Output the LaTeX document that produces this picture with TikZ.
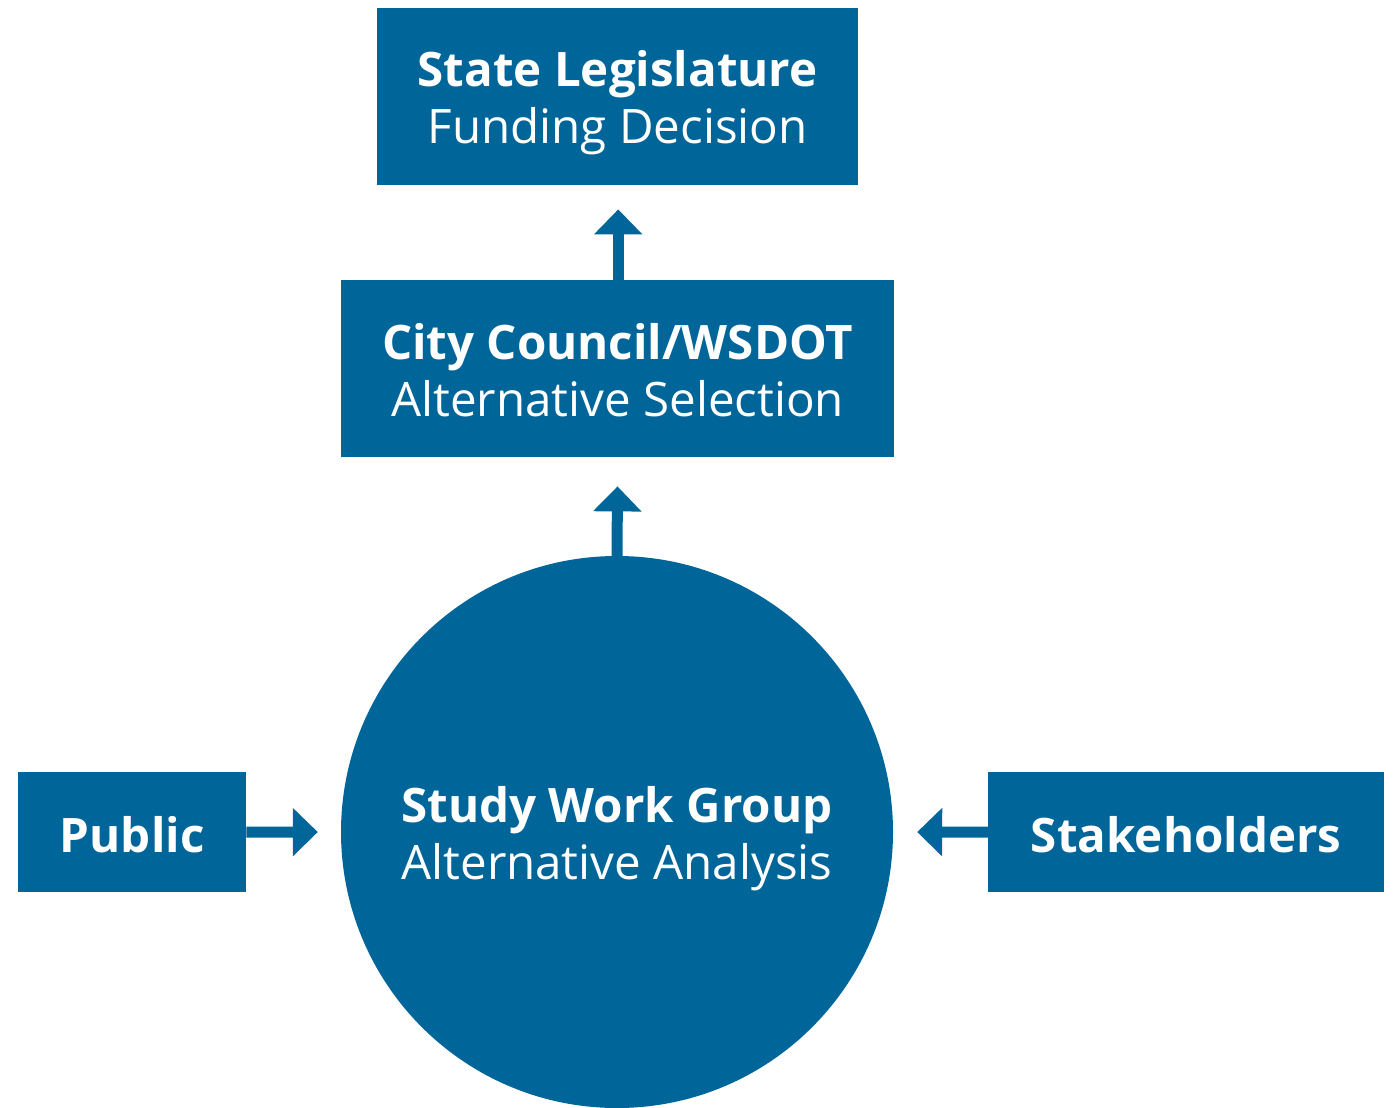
\documentclass[tikz,border=0pt]{standalone}
\usepackage{fontspec}
\setmainfont{Open Sans}
\usetikzlibrary{arrows.meta}
\definecolor{wsblue}{RGB}{0,101,153}
\tikzset{
  boxnode/.style={fill=wsblue, text=white, inner sep=0pt, align=center, anchor=north west},
  flowarrow/.style={draw=wsblue, line width=11pt, -{Triangle[length=25pt,width=47pt]}},
  bigtext/.style={font=\fontsize{47.5}{57}\selectfont},
}
\begin{document}
\begin{tikzpicture}[x=1pt,y=-1pt]
\useasboundingbox (0,0) rectangle (1395,1108);
\node[boxnode, minimum width=481pt, minimum height=177pt] (state) at (377,8) {};
\node[text=white, align=center, bigtext] at ([yshift=-6pt]state.center) {\textbf{State Legislature}\\Funding Decision};
\node[boxnode, minimum width=553pt, minimum height=177pt] (city) at (341,280) {};
\node[text=white, align=center, bigtext] at ([yshift=-1pt]city.center) {\textbf{City Council/WSDOT}\\Alternative Selection};
\node[circle, fill=wsblue, minimum size=552pt, inner sep=0pt] (swg) at (617,832) {};
\node[text=white, align=center, bigtext] at ([yshift=-7pt]swg.center) {\textbf{Study Work Group}\\Alternative Analysis};
\node[boxnode, minimum width=228pt, minimum height=120pt] (public) at (18,772) {};
\node[text=white, bigtext] at ([yshift=-2pt]public.center) {\textbf{Public}};
\node[boxnode, minimum width=396pt, minimum height=120pt] (stake) at (988,772) {};
\node[text=white, bigtext] at ([yshift=-2pt]stake.center) {\textbf{Stakeholders}};
\draw[flowarrow, shorten >=24pt] ([xshift=0.5pt]city.north) -- ([xshift=0.5pt]state.south);
\draw[flowarrow, shorten >=29pt] (swg.north) -- (city.south);
\draw[flowarrow, shorten >=23pt] (public.east) -- (swg.west);
\draw[flowarrow, shorten >=24pt] (stake.west) -- (swg.east);
\end{tikzpicture}
\end{document}
